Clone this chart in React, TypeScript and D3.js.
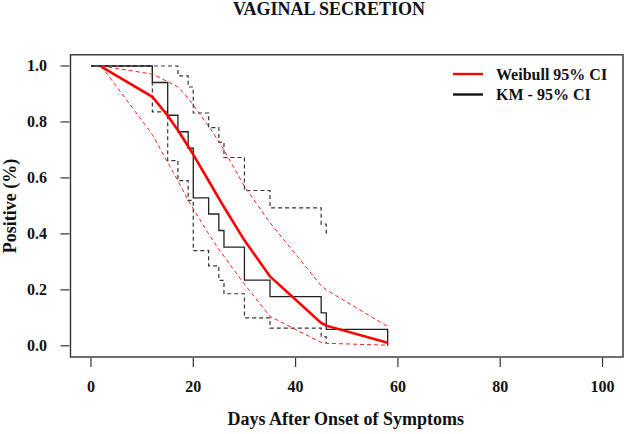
import React from 'react';
import * as d3 from 'd3';

// Kaplan-Meier estimate (step function) and its 95% CI
const kmDays = [0, 12, 15, 17, 19, 20, 23, 25, 26, 30, 35, 45, 46, 58];
const kmSurv = [1, 0.941, 0.824, 0.765, 0.706, 0.529, 0.471, 0.412, 0.353, 0.235, 0.176, 0.118, 0.059, 0];
const ciDays = [0, 12, 15, 17, 19, 20, 23, 25, 26, 30, 35, 45, 46];
const kmUpper = [1, 1, 1, 0.965, 0.925, 0.832, 0.78, 0.728, 0.673, 0.555, 0.493, 0.435, 0.398];
const kmLower = [1, 0.836, 0.662, 0.59, 0.52, 0.34, 0.286, 0.234, 0.186, 0.1, 0.063, 0.032, 0.009];

// Weibull fit with its 95% band, evaluated at the same days
const wbDays = [2, 12, 15, 17, 19, 20, 23, 25, 26, 30, 35, 45, 46, 58];
const wbFit = [0.998, 0.89, 0.822, 0.77, 0.713, 0.683, 0.59, 0.527, 0.496, 0.377, 0.248, 0.082, 0.072, 0.011];
const wbUpper = [1, 0.971, 0.944, 0.925, 0.885, 0.86, 0.785, 0.73, 0.7, 0.57, 0.44, 0.215, 0.2, 0.069];
const wbLower = [1, 0.755, 0.655, 0.59, 0.52, 0.49, 0.4, 0.345, 0.32, 0.22, 0.105, 0.012, 0.009, 0.002];

const xTicks = [0, 20, 40, 60, 80, 100];
const yTicks = [0, 0.2, 0.4, 0.6, 0.8, 1.0];
const legendItems = [
  { label: 'Weibull 95% CI', color: '#ff0000' },
  { label: 'KM - 95% CI', color: '#111111' },
];

const W = 624;
const H = 434;
const font = '"Liberation Serif", "Times New Roman", serif';

const App = () => {
  const box = { left: 70.5, right: 623, top: 54.8, bottom: 357 };
  const x = d3.scaleLinear().domain([-4, 104]).range([box.left, box.right]);
  const y = d3.scaleLinear().domain([-0.04, 1.04]).range([box.bottom, box.top]);

  const pts = (days: number[], vals: number[]) => days.map((d, i) => [d, vals[i]] as [number, number]);
  const step = d3.line().x(d => x(d[0])).y(d => y(d[1])).curve(d3.curveStepAfter);
  const straight = d3.line().x(d => x(d[0])).y(d => y(d[1]));

  return (
    <svg width={W} height={H} style={{ position: 'absolute', left: 0, top: 0, background: '#fff' }}
      fontFamily={font} fontWeight="bold">
      <text x={329} y={14.5} textAnchor="middle" fontSize={18} fill="#111">VAGINAL SECRETION</text>

      {/* KM curve and CI */}
      <path d={step(pts(ciDays, kmUpper)) || ''} fill="none" stroke="#333" strokeWidth={1.2} strokeDasharray="4,3" />
      <path d={step(pts(ciDays, kmLower)) || ''} fill="none" stroke="#333" strokeWidth={1.2} strokeDasharray="4,3" />
      <path d={step(pts(kmDays, kmSurv)) || ''} fill="none" stroke="#222" strokeWidth={1.3} />

      {/* Weibull fit and band */}
      <path d={straight(pts(wbDays, wbUpper)) || ''} fill="none" stroke="#ff1a1a" strokeWidth={1} strokeDasharray="4,3" />
      <path d={straight(pts(wbDays, wbLower)) || ''} fill="none" stroke="#ff1a1a" strokeWidth={1} strokeDasharray="4,3" />
      <path d={straight(pts(wbDays, wbFit)) || ''} fill="none" stroke="#ff0000" strokeWidth={2.6} />

      {/* box */}
      <rect x={box.left} y={box.top} width={box.right - box.left} height={box.bottom - box.top}
        fill="none" stroke="#333" strokeWidth={1.4} />

      {/* x axis */}
      {xTicks.map(t => (
        <g key={'x' + t}>
          <line x1={x(t)} x2={x(t)} y1={box.bottom + 1} y2={box.bottom + 10} stroke="#333" strokeWidth={1.2} />
          <text x={x(t)} y={392} textAnchor="middle" fontSize={16} fill="#111">{t}</text>
        </g>
      ))}
      <text x={(box.left + box.right) / 2 - 1} y={425} textAnchor="middle" fontSize={18} fill="#111">
        Days After Onset of Symptoms
      </text>

      {/* y axis */}
      {yTicks.map(t => (
        <g key={'y' + t}>
          <line x1={box.left - 10} x2={box.left - 1} y1={y(t)} y2={y(t)} stroke="#333" strokeWidth={1.2} />
          <text x={47} y={y(t) + 5.5} textAnchor="end" fontSize={16} fill="#111">{t.toFixed(1)}</text>
        </g>
      ))}
      <text transform={`translate(15.5,${(box.top + box.bottom) / 2}) rotate(-90)`} textAnchor="middle"
        fontSize={18} fill="#111">Positive (%)</text>

      {/* legend */}
      {legendItems.map((item, i) => (
        <g key={item.label} transform={`translate(0,${74 + i * 20.5})`}>
          <line x1={453} x2={483} y1={0} y2={0} stroke={item.color} strokeWidth={2.4} />
          <text x={496} y={5.5} fontSize={16} fill="#111">{item.label}</text>
        </g>
      ))}
    </svg>
  );
};

export default App;
